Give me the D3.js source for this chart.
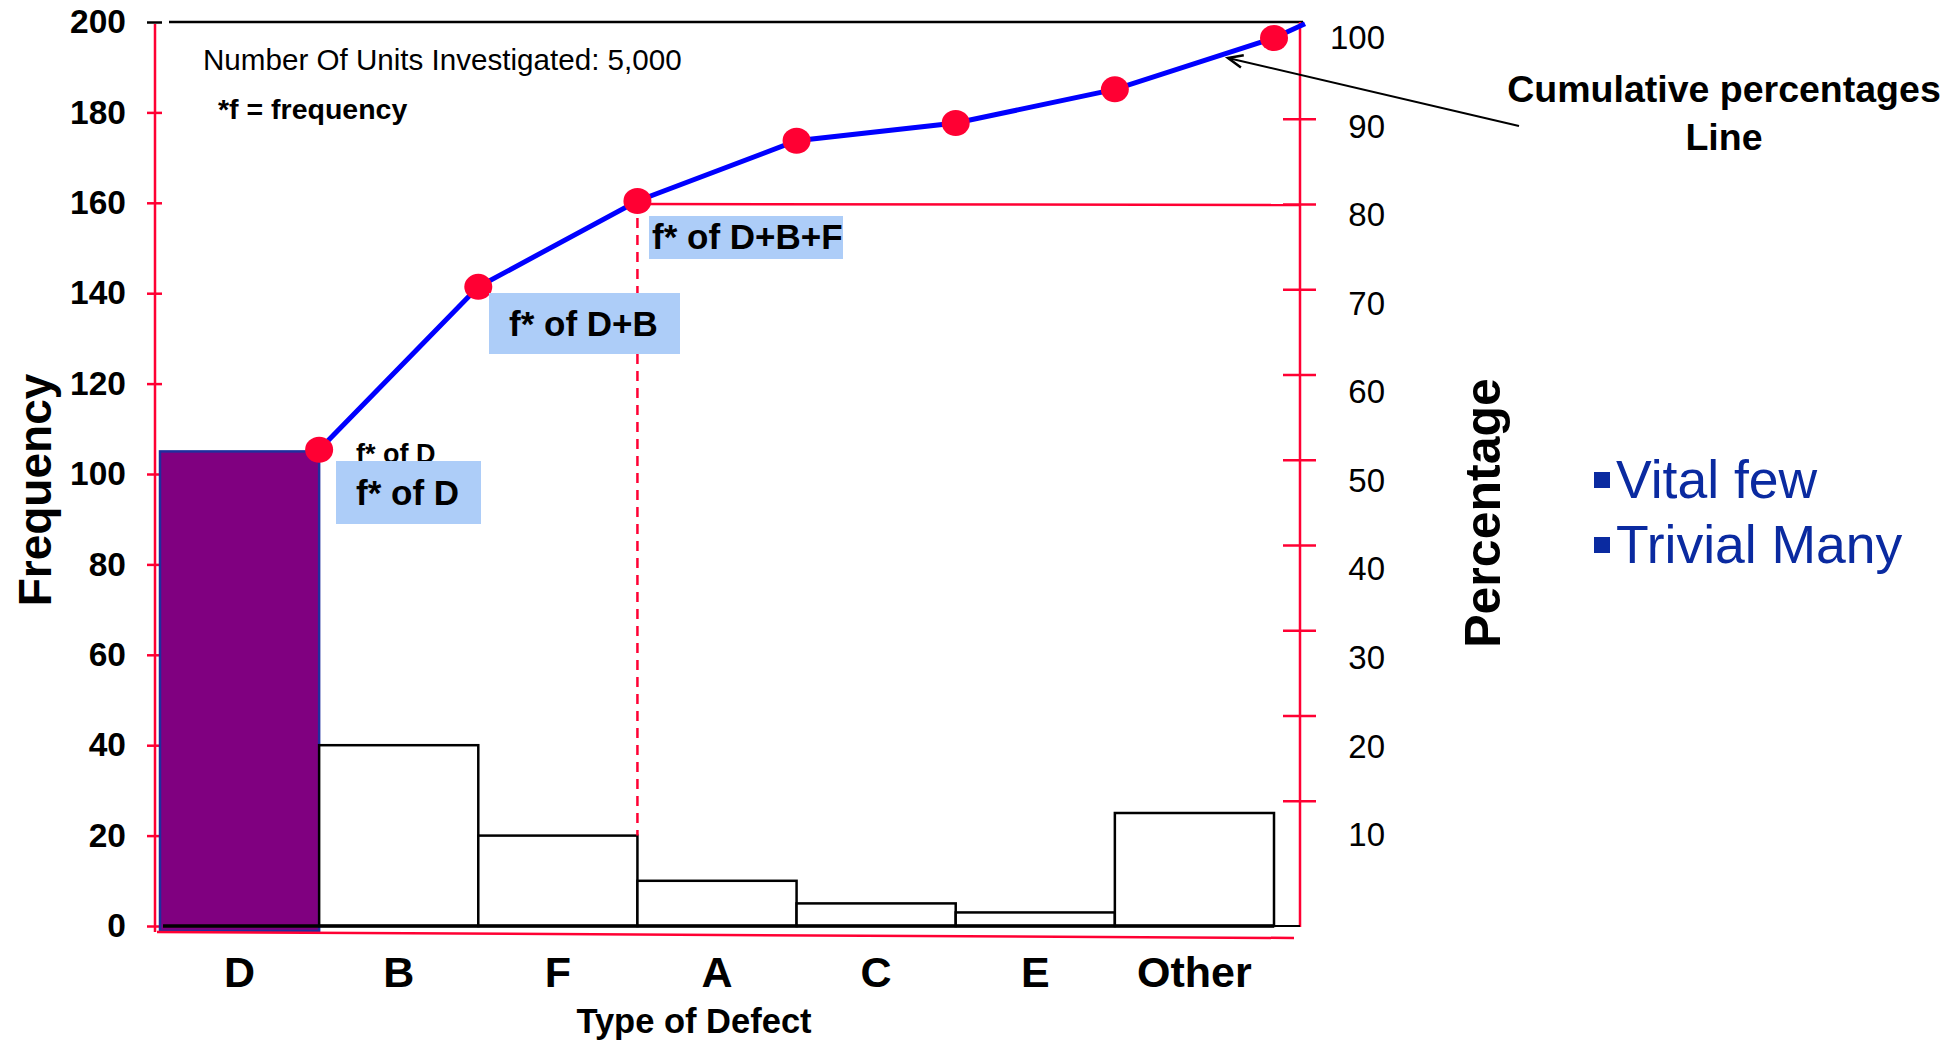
<!DOCTYPE html>
<html>
<head>
<meta charset="utf-8">
<script src="https://cdn.jsdelivr.net/npm/d3@7"></script>
<style>
body { margin: 0; background: #fff; }
text { font-family: "Liberation Sans", Arial, sans-serif; }
</style>
</head>
<body>
<script>
var width = 1955;
var height = 1043;

// data
var categories = ["D", "B", "F", "A", "C", "E", "Other"];
var frequencies = [105, 40, 20, 10, 5, 3, 25];
var cumulativePct = [53.5, 71.9, 81.6, 88.4, 90.4, 94.2, 100];
var lineEndPct = 101.6;
var freqTicks = [0, 20, 40, 60, 80, 100, 120, 140, 160, 180, 200];
var pctLabels = [10, 20, 30, 40, 50, 60, 70, 80, 90, 100];
var pctTickMarks = [10, 20, 30, 40, 50, 60, 70, 80, 90];

var red = "#ff0033";
var navy = "#0a2aa0";

var svg = d3.select("body")
            .append("svg")
            .attr("width", width)
            .attr("height", height);

var leftX = 155;
var rightX = 1300;

var x = d3.scaleBand()
          .domain(categories)
          .range([160, 1274])
          .padding(0);

var y = d3.scaleLinear()
          .domain([0, 200])
          .range([926, 22]);

// percentage labels and the tick crosses on the right axis are not quite aligned in the original
var pctY = d3.scaleLinear()
             .domain([0, 100])
             .range([923.6, 38]);

var pctTickY = d3.scaleLinear()
                 .domain([0, 100])
                 .range([886, 33.5]);

var bars = categories.map(function(c, i) {
    return { cat: c, value: frequencies[i], pct: cumulativePct[i] };
});

// left axis
var leftAxis = svg.append("g")
    .attr("transform", "translate(" + leftX + ",0)")
    .call(d3.axisLeft(y).tickValues(freqTicks).tickSize(8).tickPadding(21));
leftAxis.select(".domain").remove();
leftAxis.selectAll(".tick line")
    .attr("x1", -8).attr("x2", 7)
    .attr("stroke", function(d) { return d === 200 ? "#000" : red; })
    .attr("stroke-width", 2.5);
leftAxis.selectAll(".tick text")
    .attr("fill", "#000")
    .style("font-size", "33.5px")
    .style("font-weight", "bold")
    .style("font-family", "'Liberation Sans', Arial, sans-serif");

svg.append("line")
    .attr("x1", leftX).attr("x2", leftX)
    .attr("y1", y(200) + 2).attr("y2", y(0) + 6)
    .attr("stroke", red).attr("stroke-width", 2.5);

// top frame line
svg.append("line")
    .attr("x1", 169).attr("x2", rightX + 3)
    .attr("y1", y(200)).attr("y2", y(200))
    .attr("stroke", "#000").attr("stroke-width", 2.5);

// right axis
svg.append("line")
    .attr("x1", rightX).attr("x2", rightX)
    .attr("y1", y(200)).attr("y2", y(0) + 1)
    .attr("stroke", red).attr("stroke-width", 2.5);

var rightTicks = svg.append("g")
    .attr("transform", "translate(" + rightX + ",0)")
    .call(d3.axisRight(pctTickY).tickValues(pctTickMarks).tickFormat(""));
rightTicks.select(".domain").remove();
rightTicks.selectAll(".tick line")
    .attr("x1", -17).attr("x2", 16)
    .attr("stroke", red).attr("stroke-width", 2.5);

var rightLabels = svg.append("g")
    .attr("transform", "translate(" + rightX + ",0)")
    .call(d3.axisRight(pctY).tickValues(pctLabels).tickSize(0).tickPadding(85));
rightLabels.select(".domain").remove();
rightLabels.selectAll(".tick text")
    .attr("fill", "#000")
    .attr("text-anchor", "end")
    .style("font-size", "33px")
    .style("font-family", "'Liberation Sans', Arial, sans-serif");

// bars
svg.selectAll("rect.bar")
    .data(bars)
    .enter()
    .append("rect")
    .attr("class", "bar")
    .attr("x", function(d) { return x(d.cat); })
    .attr("y", function(d) { return y(d.value); })
    .attr("width", x.bandwidth())
    .attr("height", function(d, i) { return y(0) - y(d.value) + (i === 0 ? 5 : 0); })
    .attr("fill", function(d, i) { return i === 0 ? "#800080" : "#fff"; })
    .attr("stroke", function(d, i) { return i === 0 ? "#1f2e9e" : "#000"; })
    .attr("stroke-width", 2.5);

// baseline and the red line under it
svg.append("line")
    .attr("x1", 163).attr("x2", 1274)
    .attr("y1", y(0)).attr("y2", y(0))
    .attr("stroke", "#000").attr("stroke-width", 3.5);
svg.append("line")
    .attr("x1", 1274).attr("x2", rightX)
    .attr("y1", y(0)).attr("y2", y(0))
    .attr("stroke", "#000").attr("stroke-width", 2);
svg.append("line")
    .attr("x1", 157).attr("x2", 1294)
    .attr("y1", y(0) + 6).attr("y2", y(0) + 12)
    .attr("stroke", red).attr("stroke-width", 2.5);

// 80% reference lines from the F point
var fIdx = categories.indexOf("F");
var fx = x("F") + x.bandwidth();
svg.append("line")
    .attr("x1", fx).attr("x2", fx)
    .attr("y1", pctY(cumulativePct[fIdx])).attr("y2", y(frequencies[fIdx]))
    .attr("stroke", red).attr("stroke-width", 2.5)
    .attr("stroke-dasharray", "10,7");
svg.append("line")
    .attr("x1", fx).attr("x2", rightX)
    .attr("y1", pctTickY(80)).attr("y2", pctTickY(80) + 1)
    .attr("stroke", red).attr("stroke-width", 2.5);

// cumulative line
var linePts = bars.map(function(d) {
    return [x(d.cat) + x.bandwidth(), pctY(d.pct)];
});
linePts.push([rightX + 5, pctY(lineEndPct)]);

svg.append("path")
    .datum(linePts)
    .attr("d", d3.line())
    .attr("fill", "none")
    .attr("stroke", "#0000ff")
    .attr("stroke-width", 5);

svg.selectAll("ellipse.pt")
    .data(bars)
    .enter()
    .append("ellipse")
    .attr("class", "pt")
    .attr("cx", function(d) { return x(d.cat) + x.bandwidth(); })
    .attr("cy", function(d) { return pctY(d.pct); })
    .attr("rx", 14)
    .attr("ry", 13)
    .attr("fill", red);

// annotations
svg.append("text")
    .attr("x", 356).attr("y", 463)
    .style("font-size", "27px").style("font-weight", "bold")
    .text("f* of D");

var boxes = [
    { x: 336, y: 461, w: 145, h: 63, label: "f* of D", tx: 356, ty: 505 },
    { x: 489, y: 293, w: 191, h: 61, label: "f* of D+B", tx: 509, ty: 336 },
    { x: 649, y: 216, w: 194, h: 43, label: "f* of D+B+F", tx: 652, ty: 249 }
];
boxes.forEach(function(b) {
    svg.append("rect")
        .attr("x", b.x).attr("y", b.y)
        .attr("width", b.w).attr("height", b.h)
        .attr("fill", "#adcdf8");
    svg.append("text")
        .attr("x", b.tx).attr("y", b.ty)
        .style("font-size", "35px").style("font-weight", "bold")
        .text(b.label);
});

svg.append("text")
    .attr("x", 203).attr("y", 70)
    .style("font-size", "29.6px")
    .text("Number Of Units Investigated: 5,000");

svg.append("text")
    .attr("x", 218).attr("y", 119)
    .style("font-size", "28.5px").style("font-weight", "bold")
    .text("*f = frequency");

// axis titles
svg.append("text")
    .attr("transform", "translate(51,490) rotate(-90)")
    .attr("text-anchor", "middle")
    .style("font-size", "46px").style("font-weight", "bold")
    .text("Frequency");

svg.append("text")
    .attr("transform", "translate(1500,513) rotate(-90)")
    .attr("text-anchor", "middle")
    .style("font-size", "50px").style("font-weight", "bold")
    .text("Percentage");

svg.selectAll("text.cat")
    .data(categories)
    .enter()
    .append("text")
    .attr("class", "cat")
    .attr("x", function(d) { return x(d) + x.bandwidth() / 2; })
    .attr("y", 987)
    .attr("text-anchor", "middle")
    .style("font-size", "43px").style("font-weight", "bold")
    .text(function(d) { return d; });

svg.append("text")
    .attr("x", 694).attr("y", 1033)
    .attr("text-anchor", "middle")
    .style("font-size", "34.5px").style("font-weight", "bold")
    .text("Type of Defect");

// callout for the cumulative line
svg.append("text")
    .attr("x", 1724).attr("y", 102)
    .attr("text-anchor", "middle")
    .style("font-size", "37.5px").style("font-weight", "bold")
    .text("Cumulative percentages");
svg.append("text")
    .attr("x", 1724).attr("y", 150)
    .attr("text-anchor", "middle")
    .style("font-size", "37.5px").style("font-weight", "bold")
    .text("Line");

var ax0 = 1519, ay0 = 126, ax1 = 1228, ay1 = 58;
var ang = Math.atan2(ay0 - ay1, ax0 - ax1);
svg.append("line")
    .attr("x1", ax0).attr("y1", ay0).attr("x2", ax1).attr("y2", ay1)
    .attr("stroke", "#000").attr("stroke-width", 2);
svg.append("path")
    .attr("d", "M" + (ax1 + 16 * Math.cos(ang - 0.4)) + "," + (ay1 + 16 * Math.sin(ang - 0.4)) +
               "L" + ax1 + "," + ay1 +
               "L" + (ax1 + 16 * Math.cos(ang + 0.4)) + "," + (ay1 + 16 * Math.sin(ang + 0.4)))
    .attr("fill", "none")
    .attr("stroke", "#000").attr("stroke-width", 2.5);

// legend
var legendItems = ["Vital few", "Trivial Many"];
legendItems.forEach(function(t, i) {
    svg.append("rect")
        .attr("x", 1594).attr("y", 472 + i * 65)
        .attr("width", 16).attr("height", 16)
        .attr("fill", navy);
    svg.append("text")
        .attr("x", 1616).attr("y", 498 + i * 65)
        .attr("fill", navy)
        .style("font-size", "53.5px")
        .text(t);
});
</script>
</body>
</html>
